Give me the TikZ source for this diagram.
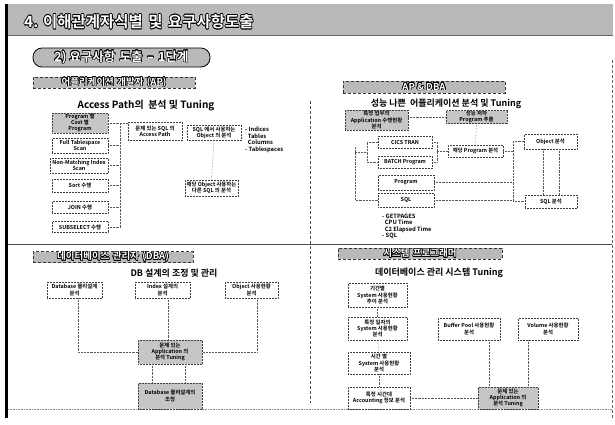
\documentclass[tikz,border=0pt]{standalone}
\usepackage{fontspec}
\setmainfont{Noto Sans CJK KR}[BoldFont={Noto Sans CJK KR Bold}]
\usepackage{contour}
\contourlength{0.6pt}
\newcommand{\wtxt}[1]{\textcolor{white}{\contour{black}{#1}}}
\newcommand{\wsp}{\hspace{0.35em}}
\tikzset{
  box/.style={draw=black!75, densely dotted, line width=0.5pt, fill=white, align=center,
    font=\bfseries\fontsize{5.4}{6.2}\selectfont, inner sep=0.3pt},
  gbox/.style={box, fill=gray!45},
  lbl/.style={draw=black!80, densely dashed, line width=0.5pt, fill=gray!55, align=center,
    font=\bfseries\fontsize{9.5}{10}\selectfont, inner sep=0pt, minimum height=11pt},
  ttl/.style={font=\bfseries\fontsize{9}{10}\selectfont, inner sep=0pt},
  lst/.style={font=\bfseries\fontsize{5.8}{6.4}\selectfont, align=left, inner sep=0pt, anchor=north west},
  con/.style={densely dotted, draw=black!65, line width=0.45pt},
}
\begin{document}
\begin{tikzpicture}[x=1pt, y=-1pt]
\useasboundingbox (0,0) rectangle (615,424);
% header
\fill[gray!55] (5,4) rectangle (613,35);
\draw[black!60, line width=0.6pt] (5,35) -- (613,35);
\node[anchor=west, inner sep=0pt, font=\bfseries\fontsize{15.5}{16}\selectfont] (head) at (24,22) {\wtxt{4. 이해관계자식별\wsp 및\wsp 요구사항도출}};
\draw[black, line width=3pt] (6.5,4) -- (6.5,418);
% frame lines
\draw[densely dashed, black!60, line width=0.5pt] (612,60) -- (612,420);
\draw[black!70, line width=1pt] (8,244) -- (612,244);
\draw[densely dotted, black!45, line width=0.6pt] (8,409) -- (612,409);
\draw[densely dashed, black!70, line width=0.6pt] (310,101) -- (310,403);
% pill
\node[draw=black, line width=0.8pt, fill=gray!55, rounded corners=9pt, minimum width=177pt, minimum height=19pt, inner sep=0pt,
  font=\bfseries\fontsize{12.5}{13}\selectfont] (pill) at (121.5,57.5) {\wtxt{2) 요구사항\wsp 도출\wsp –\wsp 1단계}};

% ---------- top-left (AP) ----------
\node[lbl, minimum width=162pt] (lap) at (114,82.5) {\wtxt{어플리케이션\wsp 개발자\wsp (AP)}};
\node[ttl, font=\bfseries\fontsize{10}{11}\selectfont] (tapt) at (146,106) {Access Path의 \ 분석 및 Tuning};
\node[gbox, minimum width=56pt, minimum height=20pt] (tl1) at (80,123) {Program 별\\Cost 별\\Program};
\node[box, minimum width=56pt, minimum height=15pt] (tl2) at (80,145.5) {Full Tablespace\\Scan};
\node[box, minimum width=58pt, minimum height=15pt] (tl3) at (79,165.5) {Non-Matching Index\\Scan};
\node[box, minimum width=56pt, minimum height=13pt] (tl4) at (80,185.5) {Sort 수행};
\node[box, minimum width=56pt, minimum height=12pt] (tl5) at (80,207) {JOIN 수행};
\node[box, minimum width=56pt, minimum height=11pt] (tl6) at (80,227) {SUBSELECT 수행};
\node[box, minimum width=54pt, minimum height=18pt] (tl7) at (155,131) {문제 있는 SQL 의\\Access Path};
\node[box, minimum width=54pt, minimum height=15pt] (tl8) at (214,132.5) {SQL 에서 사용하는\\Object 의 분석};
\node[lst] (tll) at (245,127) {- Indices\\\ \ Tables\\\ \ Columns\\- Tablespaces};
\node[box, minimum width=53pt, minimum height=16pt] (tl9) at (211.5,188) {해당 Object 사용하는\\다른 SQL 의 분석};
\coordinate (busa) at (120,123);
\coordinate (busb) at (120,227);
\draw[con] (tl1.east) -- (tl1.east -| tl7.west);
\draw[con] (busa) -- (busb);
\foreach \n in {tl2,tl3,tl4,tl5,tl6} \draw[con] (\n.east) -- (\n.east -| busa);
\draw[con] (tl7.east) -- (tl8.west);
\draw[con] (tl8.south) -- (tl9.north);

% ---------- top-right (AP & DBA) ----------
\node[lbl, minimum width=162pt, minimum height=12pt] (lad) at (424,87) {\wtxt{AP \& DBA}};
\node[ttl] (tadt) at (446,104) {성능 나쁜 \ 어플리케이션 분석 및 Tuning};
\node[gbox, minimum width=63pt, minimum height=20pt] (tr1) at (376.5,120) {특정 업무의\\Application 수행현황\\분석};
\node[gbox, minimum width=61pt, minimum height=13pt] (tr2) at (476.5,117) {성능 저하\\Program 추출};
\node[box, minimum width=55pt, minimum height=12pt] (tr3) at (475.5,151) {해당 Program 분석};
\node[box, minimum width=54pt, minimum height=12pt] (tr4) at (405,142) {CICS TRAN};
\node[box, minimum width=54pt, minimum height=12pt] (tr5) at (405,162) {BATCH Program};
\node[box, minimum width=56pt, minimum height=15pt] (tr6) at (406,182.5) {Program};
\node[box, minimum width=56pt, minimum height=14pt] (tr7) at (406,200) {SQL};
\node[box, minimum width=53pt, minimum height=15pt] (tr8) at (550.5,141.5) {Object 분석};
\node[box, minimum width=52pt, minimum height=13pt] (tr9) at (551,201.5) {SQL 분석};
\node[lst] (trl) at (382,214) {- GETPAGES\\\ \ CPU Time\\\ \ C2 Elapsed Time\\- SQL};
\draw[con] (tr1.east |- tr2.west) -- (tr2.west);
\draw[con] (tr2.south) -- (tr3.north);
% left bracket
\coordinate (lbk1) at (367,142);
\coordinate (lbk2) at (367,162);
\coordinate (lbus1) at (355,147);
\coordinate (lbus2) at (355,200);
\draw[con] (tr4.west) -- (lbk1) -- (lbk2) -- (tr5.west);
\draw[con] (355,152) -- (367,152);
\draw[con] (lbus1) -- (lbus2) -- (tr7.west);
% right bracket
\coordinate (rbk1) at (437,142);
\coordinate (rbk2) at (437,162);
\draw[con] (tr4.east) -- (rbk1) -- (rbk2) -- (tr5.east);
\draw[con] (rbk1 |- tr3.west) -- (tr3.west);
% right bus
\coordinate (rbus1) at (513,141.5);
\coordinate (rbus2) at (513,201.5);
\draw[con] (tr8.west) -- (rbus1) -- (rbus2) -- (tr9.west);
\draw[con] (tr3.east) -- (tr3.east -| rbus1);
\draw[con] (tr6.east) -- (tr6.east -| rbus1);
\draw[con] (tr7.east) -- (tr7.east -| rbus1);
\draw[con] ([xshift=-7.5pt]tr8.south) -- ([xshift=-7.5pt]tr8.south |- tr9.north);
\draw[con] ([xshift=8.5pt]tr8.south) -- ([xshift=8.5pt]tr8.south |- tr9.north);

% ---------- bottom-left (DBA) ----------
\node[lbl, minimum width=160pt] (ldba) at (113,257) {\wtxt{데이터베이스\wsp 관리자\wsp (DBA)}};
\node[ttl] (tdbt) at (174,273) {DB 설계의 조정 및 관리};
\node[box, minimum width=55pt, minimum height=16pt] (bl1) at (74.5,290) {Database 물리설계\\분석};
\node[box, minimum width=55pt, minimum height=16pt] (bl2) at (162.5,290) {Index 설계의\\분석};
\node[box, minimum width=53pt, minimum height=16pt] (bl3) at (251.5,290) {Object 사용현황\\분석};
\node[gbox, minimum width=64pt, minimum height=24pt] (bl4) at (170,352) {문제 있는\\Application 의\\분석 Tuning};
\node[gbox, minimum width=64pt, minimum height=26pt] (bl5) at (170,396) {Database 물리설계의\\조정};
\draw[con] ([xshift=3.5pt]bl1.south) |- (bl4.west);
\draw[con] ([xshift=5.5pt]bl2.south) -- ([xshift=5.5pt]bl2.south |- bl4.north);
\draw[con] ([xshift=5.5pt]bl3.south) |- (bl4.east);
\draw[con] ([xshift=-18pt]bl4.south) -- ([xshift=-18pt]bl4.south |- bl5.north);
\draw[con] ([xshift=15pt]bl4.south) -- ([xshift=15pt]bl4.south |- bl5.north);

% ---------- bottom-right (system programmer) ----------
\node[lbl, minimum width=164pt] (lsys) at (420,253.5) {\wtxt{시스템\wsp 프로그래머}};
\node[ttl] (tsyt) at (439,273) {데이터베이스 관리 시스템 Tuning};
\node[box, minimum width=59pt, minimum height=24pt] (br1) at (377.5,295) {기간별\\System 사용현황\\추이 분석};
\node[box, minimum width=59pt, minimum height=23pt] (br2) at (377.5,328.5) {특정 일자의\\System 사용현황\\분석};
\node[box, minimum width=62pt, minimum height=22pt] (br3) at (379,363) {시간 별\\System 사용현황\\분석};
\node[box, minimum width=62pt, minimum height=22pt] (br4) at (379,398) {특정 시간대\\Accounting 정보 분석};
\node[box, minimum width=62pt, minimum height=22pt] (br5) at (469,329) {Buffer Pool 사용현황\\분석};
\node[box, minimum width=60pt, minimum height=22pt] (br6) at (548,329) {Volume 사용현황\\분석};
\node[gbox, minimum width=60pt, minimum height=22pt] (br7) at (508,398) {문제 있는\\Application 의\\분석 Tuning};
\draw[con] (br1.south) -- (br2.north);
\draw[con] (br2.south) -- (br3.north);
\draw[con] (br3.south) -- (br4.north);
\draw[con] (br4.east) -- (br7.west);
\draw[con] ([xshift=20pt]br5.south) -- ([xshift=20pt]br5.south |- br7.north);
\draw[con] ([xshift=-20pt]br6.south) -- ([xshift=-20pt]br6.south |- br7.north);
\end{tikzpicture}
\end{document}
